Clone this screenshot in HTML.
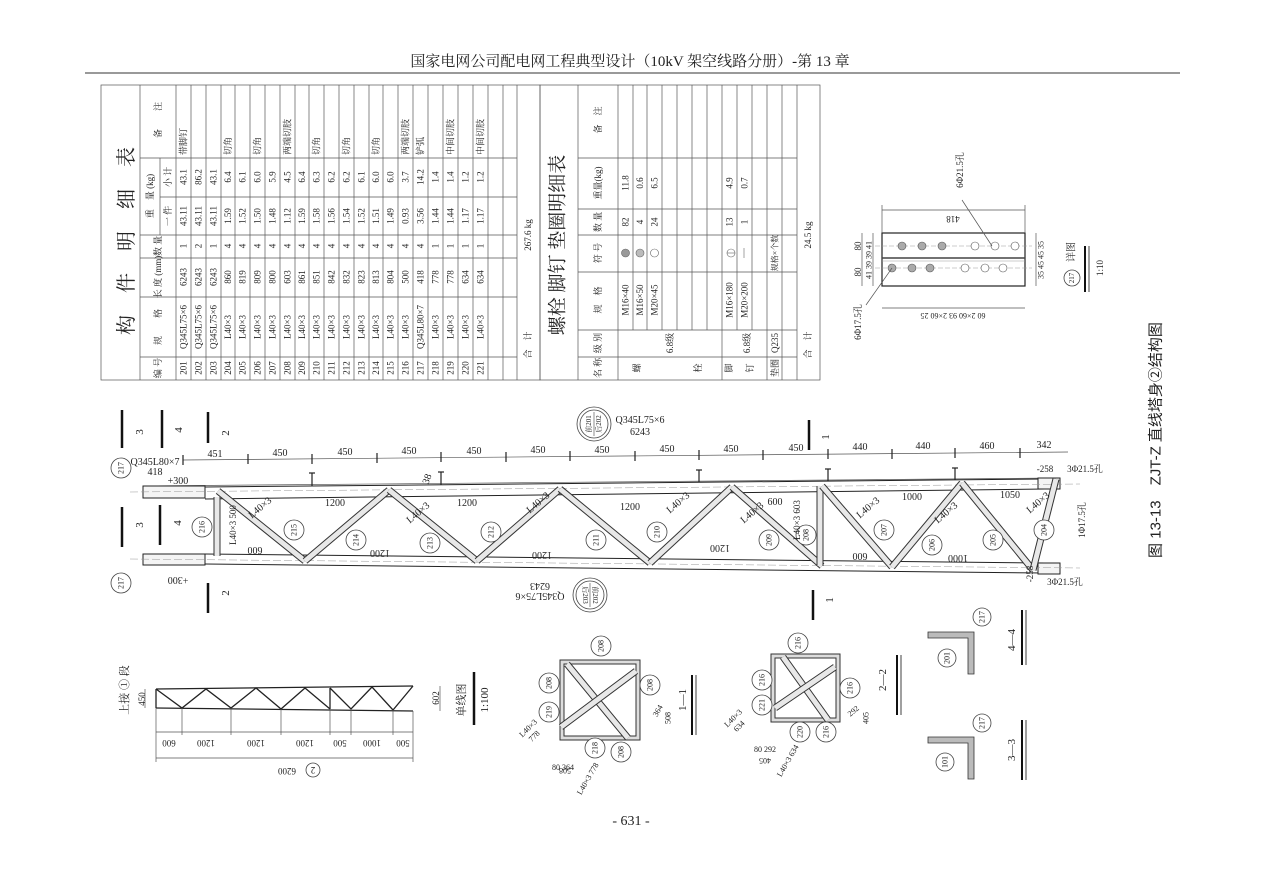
<!DOCTYPE html>
<html><head><meta charset="utf-8"><style>
html,body{margin:0;padding:0;background:#fff}
svg{display:block}
text{font-family:"Liberation Serif","Noto Serif CJK SC",serif;fill:#222}
.r{text-anchor:middle;dominant-baseline:central;font-size:9px}
.s{text-anchor:start;dominant-baseline:central;font-size:9px}
.t{font-size:10px;text-anchor:middle}
.g{stroke:#555;stroke-width:0.7;fill:none}
.k{stroke:#222;stroke-width:1;fill:none}
.bar1{stroke:#333;stroke-width:7;stroke-linecap:butt}
.bar2{stroke:#e8e8e8;stroke-width:5}
.c{fill:#fff;stroke:#444;stroke-width:0.8}
</style></head><body>
<svg width="1262" height="892" viewBox="0 0 1262 892" xmlns="http://www.w3.org/2000/svg">
<text x="630" y="66" style="font-size:15px;text-anchor:middle">国家电网公司配电网工程典型设计（10kV 架空线路分册）-第 13 章</text>
<line x1="85" y1="73" x2="1180" y2="73" stroke="#333" stroke-width="1"/>

<!-- TABLE 1 -->
<rect x="101" y="85" width="439" height="295" class="g"/>
<g class="g">
<line x1="140" y1="85" x2="140" y2="380"/><line x1="160" y1="158" x2="160" y2="235"/>
<line x1="176" y1="85" x2="176" y2="380"/><line x1="191" y1="85" x2="191" y2="380"/><line x1="206" y1="85" x2="206" y2="380"/><line x1="221" y1="85" x2="221" y2="380"/><line x1="235" y1="85" x2="235" y2="380"/><line x1="250" y1="85" x2="250" y2="380"/><line x1="265" y1="85" x2="265" y2="380"/><line x1="280" y1="85" x2="280" y2="380"/><line x1="295" y1="85" x2="295" y2="380"/><line x1="309" y1="85" x2="309" y2="380"/><line x1="324" y1="85" x2="324" y2="380"/><line x1="339" y1="85" x2="339" y2="380"/><line x1="354" y1="85" x2="354" y2="380"/><line x1="369" y1="85" x2="369" y2="380"/><line x1="383" y1="85" x2="383" y2="380"/><line x1="398" y1="85" x2="398" y2="380"/><line x1="413" y1="85" x2="413" y2="380"/><line x1="428" y1="85" x2="428" y2="380"/><line x1="443" y1="85" x2="443" y2="380"/><line x1="458" y1="85" x2="458" y2="380"/><line x1="473" y1="85" x2="473" y2="380"/><line x1="488" y1="85" x2="488" y2="380"/><line x1="503" y1="85" x2="503" y2="380"/><line x1="517" y1="85" x2="517" y2="380"/>
<line x1="140" y1="357" x2="517" y2="357"/><line x1="140" y1="297" x2="517" y2="297"/><line x1="140" y1="258" x2="517" y2="258"/><line x1="140" y1="235" x2="517" y2="235"/><line x1="160" y1="197" x2="517" y2="197"/><line x1="140" y1="158" x2="517" y2="158"/>
</g>
<text transform="rotate(-90 127 230)" x="127" y="230" class="r" style="font-size:20px;letter-spacing:22px">构件明细表</text>
<text transform="rotate(-90 158 368)" x="158" y="368" class="r">编 号</text>
<text transform="rotate(-90 158 327)" x="158" y="327" class="r">规　　格</text>
<text transform="rotate(-90 158 277)" x="158" y="277" class="r">长 度 (mm)</text>
<text transform="rotate(-90 158 246)" x="158" y="246" class="r">数 量</text>
<text transform="rotate(-90 150 196)" x="150" y="196" class="r">重　量 (kg)</text>
<text transform="rotate(-90 168 216)" x="168" y="216" class="r">一 件</text>
<text transform="rotate(-90 168 177)" x="168" y="177" class="r">小 计</text>
<text transform="rotate(-90 158 120)" x="158" y="120" class="r">备　　注</text>
<text transform="rotate(-90 528 345)" x="528" y="345" class="r">合　计</text>
<text transform="rotate(-90 528 235)" x="528" y="235" class="r">267.6 kg</text>
<!-- rows -->
<g>
<text transform="rotate(-90 183.5 368)" x="183.5" y="368" class="r">201</text><text transform="rotate(-90 183.5 327)" x="183.5" y="327" class="r">Q345L75×6</text><text transform="rotate(-90 183.5 277)" x="183.5" y="277" class="r">6243</text><text transform="rotate(-90 183.5 246)" x="183.5" y="246" class="r">1</text><text transform="rotate(-90 183.5 216)" x="183.5" y="216" class="r">43.11</text><text transform="rotate(-90 183.5 177)" x="183.5" y="177" class="r">43.1</text><text transform="rotate(-90 183.5 155)" x="183.5" y="155" class="s">带脚钉</text>
<text transform="rotate(-90 198.5 368)" x="198.5" y="368" class="r">202</text><text transform="rotate(-90 198.5 327)" x="198.5" y="327" class="r">Q345L75×6</text><text transform="rotate(-90 198.5 277)" x="198.5" y="277" class="r">6243</text><text transform="rotate(-90 198.5 246)" x="198.5" y="246" class="r">2</text><text transform="rotate(-90 198.5 216)" x="198.5" y="216" class="r">43.11</text><text transform="rotate(-90 198.5 177)" x="198.5" y="177" class="r">86.2</text>
<text transform="rotate(-90 213.5 368)" x="213.5" y="368" class="r">203</text><text transform="rotate(-90 213.5 327)" x="213.5" y="327" class="r">Q345L75×6</text><text transform="rotate(-90 213.5 277)" x="213.5" y="277" class="r">6243</text><text transform="rotate(-90 213.5 246)" x="213.5" y="246" class="r">1</text><text transform="rotate(-90 213.5 216)" x="213.5" y="216" class="r">43.11</text><text transform="rotate(-90 213.5 177)" x="213.5" y="177" class="r">43.1</text>
<text transform="rotate(-90 228 368)" x="228" y="368" class="r">204</text><text transform="rotate(-90 228 327)" x="228" y="327" class="r">L40×3</text><text transform="rotate(-90 228 277)" x="228" y="277" class="r">860</text><text transform="rotate(-90 228 246)" x="228" y="246" class="r">4</text><text transform="rotate(-90 228 216)" x="228" y="216" class="r">1.59</text><text transform="rotate(-90 228 177)" x="228" y="177" class="r">6.4</text><text transform="rotate(-90 228 155)" x="228" y="155" class="s">切角</text>
<text transform="rotate(-90 242.5 368)" x="242.5" y="368" class="r">205</text><text transform="rotate(-90 242.5 327)" x="242.5" y="327" class="r">L40×3</text><text transform="rotate(-90 242.5 277)" x="242.5" y="277" class="r">819</text><text transform="rotate(-90 242.5 246)" x="242.5" y="246" class="r">4</text><text transform="rotate(-90 242.5 216)" x="242.5" y="216" class="r">1.52</text><text transform="rotate(-90 242.5 177)" x="242.5" y="177" class="r">6.1</text>
<text transform="rotate(-90 257.5 368)" x="257.5" y="368" class="r">206</text><text transform="rotate(-90 257.5 327)" x="257.5" y="327" class="r">L40×3</text><text transform="rotate(-90 257.5 277)" x="257.5" y="277" class="r">809</text><text transform="rotate(-90 257.5 246)" x="257.5" y="246" class="r">4</text><text transform="rotate(-90 257.5 216)" x="257.5" y="216" class="r">1.50</text><text transform="rotate(-90 257.5 177)" x="257.5" y="177" class="r">6.0</text><text transform="rotate(-90 257.5 155)" x="257.5" y="155" class="s">切角</text>
<text transform="rotate(-90 272.5 368)" x="272.5" y="368" class="r">207</text><text transform="rotate(-90 272.5 327)" x="272.5" y="327" class="r">L40×3</text><text transform="rotate(-90 272.5 277)" x="272.5" y="277" class="r">800</text><text transform="rotate(-90 272.5 246)" x="272.5" y="246" class="r">4</text><text transform="rotate(-90 272.5 216)" x="272.5" y="216" class="r">1.48</text><text transform="rotate(-90 272.5 177)" x="272.5" y="177" class="r">5.9</text>
<text transform="rotate(-90 287.5 368)" x="287.5" y="368" class="r">208</text><text transform="rotate(-90 287.5 327)" x="287.5" y="327" class="r">L40×3</text><text transform="rotate(-90 287.5 277)" x="287.5" y="277" class="r">603</text><text transform="rotate(-90 287.5 246)" x="287.5" y="246" class="r">4</text><text transform="rotate(-90 287.5 216)" x="287.5" y="216" class="r">1.12</text><text transform="rotate(-90 287.5 177)" x="287.5" y="177" class="r">4.5</text><text transform="rotate(-90 287.5 155)" x="287.5" y="155" class="s">两端切肢</text>
<text transform="rotate(-90 302 368)" x="302" y="368" class="r">209</text><text transform="rotate(-90 302 327)" x="302" y="327" class="r">L40×3</text><text transform="rotate(-90 302 277)" x="302" y="277" class="r">861</text><text transform="rotate(-90 302 246)" x="302" y="246" class="r">4</text><text transform="rotate(-90 302 216)" x="302" y="216" class="r">1.59</text><text transform="rotate(-90 302 177)" x="302" y="177" class="r">6.4</text>
<text transform="rotate(-90 316.5 368)" x="316.5" y="368" class="r">210</text><text transform="rotate(-90 316.5 327)" x="316.5" y="327" class="r">L40×3</text><text transform="rotate(-90 316.5 277)" x="316.5" y="277" class="r">851</text><text transform="rotate(-90 316.5 246)" x="316.5" y="246" class="r">4</text><text transform="rotate(-90 316.5 216)" x="316.5" y="216" class="r">1.58</text><text transform="rotate(-90 316.5 177)" x="316.5" y="177" class="r">6.3</text><text transform="rotate(-90 316.5 155)" x="316.5" y="155" class="s">切角</text>
<text transform="rotate(-90 331.5 368)" x="331.5" y="368" class="r">211</text><text transform="rotate(-90 331.5 327)" x="331.5" y="327" class="r">L40×3</text><text transform="rotate(-90 331.5 277)" x="331.5" y="277" class="r">842</text><text transform="rotate(-90 331.5 246)" x="331.5" y="246" class="r">4</text><text transform="rotate(-90 331.5 216)" x="331.5" y="216" class="r">1.56</text><text transform="rotate(-90 331.5 177)" x="331.5" y="177" class="r">6.2</text>
<text transform="rotate(-90 346.5 368)" x="346.5" y="368" class="r">212</text><text transform="rotate(-90 346.5 327)" x="346.5" y="327" class="r">L40×3</text><text transform="rotate(-90 346.5 277)" x="346.5" y="277" class="r">832</text><text transform="rotate(-90 346.5 246)" x="346.5" y="246" class="r">4</text><text transform="rotate(-90 346.5 216)" x="346.5" y="216" class="r">1.54</text><text transform="rotate(-90 346.5 177)" x="346.5" y="177" class="r">6.2</text><text transform="rotate(-90 346.5 155)" x="346.5" y="155" class="s">切角</text>
<text transform="rotate(-90 361.5 368)" x="361.5" y="368" class="r">213</text><text transform="rotate(-90 361.5 327)" x="361.5" y="327" class="r">L40×3</text><text transform="rotate(-90 361.5 277)" x="361.5" y="277" class="r">823</text><text transform="rotate(-90 361.5 246)" x="361.5" y="246" class="r">4</text><text transform="rotate(-90 361.5 216)" x="361.5" y="216" class="r">1.52</text><text transform="rotate(-90 361.5 177)" x="361.5" y="177" class="r">6.1</text>
<text transform="rotate(-90 376 368)" x="376" y="368" class="r">214</text><text transform="rotate(-90 376 327)" x="376" y="327" class="r">L40×3</text><text transform="rotate(-90 376 277)" x="376" y="277" class="r">813</text><text transform="rotate(-90 376 246)" x="376" y="246" class="r">4</text><text transform="rotate(-90 376 216)" x="376" y="216" class="r">1.51</text><text transform="rotate(-90 376 177)" x="376" y="177" class="r">6.0</text><text transform="rotate(-90 376 155)" x="376" y="155" class="s">切角</text>
<text transform="rotate(-90 390.5 368)" x="390.5" y="368" class="r">215</text><text transform="rotate(-90 390.5 327)" x="390.5" y="327" class="r">L40×3</text><text transform="rotate(-90 390.5 277)" x="390.5" y="277" class="r">804</text><text transform="rotate(-90 390.5 246)" x="390.5" y="246" class="r">4</text><text transform="rotate(-90 390.5 216)" x="390.5" y="216" class="r">1.49</text><text transform="rotate(-90 390.5 177)" x="390.5" y="177" class="r">6.0</text>
<text transform="rotate(-90 405.5 368)" x="405.5" y="368" class="r">216</text><text transform="rotate(-90 405.5 327)" x="405.5" y="327" class="r">L40×3</text><text transform="rotate(-90 405.5 277)" x="405.5" y="277" class="r">500</text><text transform="rotate(-90 405.5 246)" x="405.5" y="246" class="r">4</text><text transform="rotate(-90 405.5 216)" x="405.5" y="216" class="r">0.93</text><text transform="rotate(-90 405.5 177)" x="405.5" y="177" class="r">3.7</text><text transform="rotate(-90 405.5 155)" x="405.5" y="155" class="s">两端切肢</text>
<text transform="rotate(-90 420.5 368)" x="420.5" y="368" class="r">217</text><text transform="rotate(-90 420.5 327)" x="420.5" y="327" class="r">Q345L80×7</text><text transform="rotate(-90 420.5 277)" x="420.5" y="277" class="r">418</text><text transform="rotate(-90 420.5 246)" x="420.5" y="246" class="r">4</text><text transform="rotate(-90 420.5 216)" x="420.5" y="216" class="r">3.56</text><text transform="rotate(-90 420.5 177)" x="420.5" y="177" class="r">14.2</text><text transform="rotate(-90 420.5 155)" x="420.5" y="155" class="s">铲弧</text>
<text transform="rotate(-90 435.5 368)" x="435.5" y="368" class="r">218</text><text transform="rotate(-90 435.5 327)" x="435.5" y="327" class="r">L40×3</text><text transform="rotate(-90 435.5 277)" x="435.5" y="277" class="r">778</text><text transform="rotate(-90 435.5 246)" x="435.5" y="246" class="r">1</text><text transform="rotate(-90 435.5 216)" x="435.5" y="216" class="r">1.44</text><text transform="rotate(-90 435.5 177)" x="435.5" y="177" class="r">1.4</text>
<text transform="rotate(-90 450.5 368)" x="450.5" y="368" class="r">219</text><text transform="rotate(-90 450.5 327)" x="450.5" y="327" class="r">L40×3</text><text transform="rotate(-90 450.5 277)" x="450.5" y="277" class="r">778</text><text transform="rotate(-90 450.5 246)" x="450.5" y="246" class="r">1</text><text transform="rotate(-90 450.5 216)" x="450.5" y="216" class="r">1.44</text><text transform="rotate(-90 450.5 177)" x="450.5" y="177" class="r">1.4</text><text transform="rotate(-90 450.5 155)" x="450.5" y="155" class="s">中间切肢</text>
<text transform="rotate(-90 465.5 368)" x="465.5" y="368" class="r">220</text><text transform="rotate(-90 465.5 327)" x="465.5" y="327" class="r">L40×3</text><text transform="rotate(-90 465.5 277)" x="465.5" y="277" class="r">634</text><text transform="rotate(-90 465.5 246)" x="465.5" y="246" class="r">1</text><text transform="rotate(-90 465.5 216)" x="465.5" y="216" class="r">1.17</text><text transform="rotate(-90 465.5 177)" x="465.5" y="177" class="r">1.2</text>
<text transform="rotate(-90 480.5 368)" x="480.5" y="368" class="r">221</text><text transform="rotate(-90 480.5 327)" x="480.5" y="327" class="r">L40×3</text><text transform="rotate(-90 480.5 277)" x="480.5" y="277" class="r">634</text><text transform="rotate(-90 480.5 246)" x="480.5" y="246" class="r">1</text><text transform="rotate(-90 480.5 216)" x="480.5" y="216" class="r">1.17</text><text transform="rotate(-90 480.5 177)" x="480.5" y="177" class="r">1.2</text><text transform="rotate(-90 480.5 155)" x="480.5" y="155" class="s">中间切肢</text>
</g>

<!-- TABLE 2 -->
<rect x="540" y="85" width="280" height="295" class="g"/>
<g class="g">
<line x1="578" y1="85" x2="578" y2="380"/><line x1="618" y1="85" x2="618" y2="380"/>
<line x1="633" y1="85" x2="633" y2="330"/><line x1="647" y1="85" x2="647" y2="330"/><line x1="662" y1="85" x2="662" y2="330"/><line x1="677" y1="85" x2="677" y2="330"/><line x1="692" y1="85" x2="692" y2="330"/><line x1="707" y1="85" x2="707" y2="330"/><line x1="722" y1="85" x2="722" y2="380"/><line x1="737" y1="85" x2="737" y2="330"/><line x1="752" y1="85" x2="752" y2="330"/><line x1="767" y1="85" x2="767" y2="380"/><line x1="782" y1="85" x2="782" y2="380"/><line x1="797" y1="85" x2="797" y2="380"/>
<line x1="578" y1="357" x2="797" y2="357"/><line x1="578" y1="330" x2="797" y2="330"/><line x1="578" y1="272" x2="797" y2="272"/><line x1="578" y1="235" x2="797" y2="235"/><line x1="578" y1="209" x2="797" y2="209"/><line x1="578" y1="158" x2="797" y2="158"/>
</g>
<text transform="rotate(-90 558 245)" x="558" y="245" class="r" style="font-size:19px">螺栓 脚钉 垫圈明细表</text>
<text transform="rotate(-90 598 368)" x="598" y="368" class="r">名 称</text>
<text transform="rotate(-90 598 343)" x="598" y="343" class="r">级 别</text>
<text transform="rotate(-90 598 300)" x="598" y="300" class="r">规　格</text>
<text transform="rotate(-90 598 253)" x="598" y="253" class="r">符 号</text>
<text transform="rotate(-90 598 222)" x="598" y="222" class="r">数 量</text>
<text transform="rotate(-90 598 183)" x="598" y="183" class="r">重量(kg)</text>
<text transform="rotate(-90 598 120)" x="598" y="120" class="r">备　注</text>
<text transform="rotate(-90 637 368)" x="637" y="368" class="r">螺</text>
<text transform="rotate(-90 698 368)" x="698" y="368" class="r">栓</text>
<text transform="rotate(-90 670 343)" x="670" y="343" class="r">6.8级</text>
<text transform="rotate(-90 729 368)" x="729" y="368" class="r">脚</text>
<text transform="rotate(-90 750 368)" x="750" y="368" class="r">钉</text>
<text transform="rotate(-90 747 343)" x="747" y="343" class="r">6.8级</text>
<text transform="rotate(-90 775 368)" x="775" y="368" class="r">垫圈</text>
<text transform="rotate(-90 775 343)" x="775" y="343" class="r">Q235</text>
<text transform="rotate(-90 775 253)" x="775" y="253" class="r" style="font-size:8px">规格×个数</text>
<text transform="rotate(-90 625.5 300)" x="625.5" y="300" class="r">M16×40</text><text transform="rotate(-90 625.5 222)" x="625.5" y="222" class="r">82</text><text transform="rotate(-90 625.5 183)" x="625.5" y="183" class="r">11.8</text>
<text transform="rotate(-90 640 300)" x="640" y="300" class="r">M16×50</text><text transform="rotate(-90 640 222)" x="640" y="222" class="r">4</text><text transform="rotate(-90 640 183)" x="640" y="183" class="r">0.6</text>
<text transform="rotate(-90 654.5 300)" x="654.5" y="300" class="r">M20×45</text><text transform="rotate(-90 654.5 222)" x="654.5" y="222" class="r">24</text><text transform="rotate(-90 654.5 183)" x="654.5" y="183" class="r">6.5</text>
<text transform="rotate(-90 729.5 300)" x="729.5" y="300" class="r">M16×180</text><text transform="rotate(-90 729.5 222)" x="729.5" y="222" class="r">13</text><text transform="rotate(-90 729.5 183)" x="729.5" y="183" class="r">4.9</text>
<text transform="rotate(-90 744.5 300)" x="744.5" y="300" class="r">M20×200</text><text transform="rotate(-90 744.5 222)" x="744.5" y="222" class="r">1</text><text transform="rotate(-90 744.5 183)" x="744.5" y="183" class="r">0.7</text>
<circle cx="625.5" cy="253" r="4" fill="#999" stroke="#666" stroke-width="0.6"/>
<circle cx="640" cy="253" r="4" fill="#bbb" stroke="#666" stroke-width="0.6"/>
<circle cx="654.5" cy="253" r="4" fill="none" stroke="#666" stroke-width="0.6"/>
<circle cx="731" cy="253" r="4" fill="none" stroke="#666" stroke-width="0.6"/><line x1="727" y1="253" x2="735" y2="253" stroke="#666" stroke-width="0.6"/>
<line x1="744" y1="248" x2="744" y2="258" stroke="#666" stroke-width="0.6"/>
<text transform="rotate(-90 808 345)" x="808" y="345" class="r">合　计</text>
<text transform="rotate(-90 808 235)" x="808" y="235" class="r">24.5 kg</text>

<!-- DETAIL 217 -->
<rect x="882" y="233" width="143" height="53" fill="none" stroke="#222" stroke-width="1.2"/>
<line x1="882" y1="258" x2="1025" y2="258" stroke="#444" stroke-width="1.5"/><line x1="882" y1="261" x2="1025" y2="261" stroke="#999" stroke-width="0.6"/>
<line x1="875" y1="246" x2="1032" y2="246" stroke="#999" stroke-width="0.5" stroke-dasharray="5,2"/>
<line x1="875" y1="268" x2="1032" y2="268" stroke="#999" stroke-width="0.5" stroke-dasharray="5,2"/>
<g stroke="#555" stroke-width="0.6"><circle cx="902" cy="246" r="4" fill="#aaa"/><circle cx="922" cy="246" r="4" fill="#aaa"/><circle cx="942" cy="246" r="4" fill="#aaa"/><circle cx="975" cy="246" r="4" fill="#fff"/><circle cx="995" cy="246" r="4" fill="#fff"/><circle cx="1015" cy="246" r="4" fill="#fff"/>
<circle cx="892" cy="268" r="4" fill="#aaa"/><circle cx="912" cy="268" r="4" fill="#aaa"/><circle cx="930" cy="268" r="4" fill="#aaa"/><circle cx="965" cy="268" r="4" fill="#fff"/><circle cx="985" cy="268" r="4" fill="#fff"/><circle cx="1003" cy="268" r="4" fill="#fff"/></g>
<g class="g"><line x1="882" y1="210" x2="1025" y2="210"/><line x1="882" y1="205" x2="882" y2="233"/><line x1="1025" y1="205" x2="1025" y2="233"/>
<line x1="882" y1="308" x2="1025" y2="308"/><line x1="862" y1="233" x2="862" y2="286"/><line x1="873" y1="233" x2="873" y2="286"/><line x1="1036" y1="233" x2="1036" y2="286"/>
<line x1="992" y1="246" x2="962" y2="200"/><line x1="892" y1="268" x2="866" y2="305"/></g>
<text transform="rotate(180 953 216)" x="953" y="216" class="t" style="font-size:9px;text-anchor:middle">418</text>
<text transform="rotate(-90 858 246)" x="858" y="246" class="r">80</text><text transform="rotate(-90 858 272)" x="858" y="272" class="r">80</text>
<text transform="rotate(-90 869 260)" x="869" y="260" class="r" style="font-size:8px">41 39 39 41</text>
<text transform="rotate(-90 1041 260)" x="1041" y="260" class="r" style="font-size:8px">35 45 45 35</text>
<text transform="rotate(180 953 313)" x="953" y="313" class="t" style="font-size:8px">60  2×60  93  2×60  25</text>
<text transform="rotate(-90 960 170)" x="960" y="170" class="r">6Φ21.5孔</text>
<text transform="rotate(-90 858 322)" x="858" y="322" class="r">6Φ17.5孔</text>
<circle cx="1072" cy="278" r="8" class="c"/><text transform="rotate(-90 1072 278)" x="1072" y="278" class="r" style="font-size:7px">217</text>
<text transform="rotate(-90 1072 252)" x="1072" y="252" class="r" style="font-size:10px">详图</text>
<line x1="1085" y1="246" x2="1085" y2="292" stroke="#111" stroke-width="2"/><line x1="1089" y1="246" x2="1089" y2="292" stroke="#111" stroke-width="0.8"/>
<text transform="rotate(-90 1100 268)" x="1100" y="268" class="r">1:10</text>

<text transform="rotate(-90 1156 440)" x="1156" y="440" class="r" style="font-size:15px;font-family:'Liberation Sans','Noto Sans CJK SC',sans-serif">图 13-13　ZJT-Z 直线塔身②结构图</text>

<!-- MAIN TRUSS -->
<g class="g">
<line x1="183" y1="460" x2="1068" y2="452"/>
<line x1="143" y1="486" x2="1060" y2="478"/>
</g>
<g stroke="#222" stroke-width="1" fill="none">
<line x1="205" y1="487" x2="1045" y2="479"/><line x1="205" y1="499" x2="1045" y2="489"/>
<line x1="205" y1="554" x2="1045" y2="563"/><line x1="205" y1="564" x2="1045" y2="573"/>
<rect x="143" y="486" width="62" height="12" fill="#f4f4f4"/><rect x="143" y="554" width="62" height="11" fill="#f4f4f4"/>
<rect x="1038" y="478" width="22" height="11" fill="#f4f4f4"/><rect x="1038" y="563" width="22" height="11" fill="#f4f4f4"/>
</g>
<g stroke="#999" stroke-width="0.5" stroke-dasharray="8,3"><line x1="130" y1="492" x2="1080" y2="484"/><line x1="130" y1="559" x2="1080" y2="568"/></g>
<g>
<line x1="218" y1="491" x2="305" y2="561" class="bar1"/><line x1="218" y1="491" x2="305" y2="561" class="bar2"/>
<line x1="305" y1="561" x2="389" y2="490" class="bar1"/><line x1="305" y1="561" x2="389" y2="490" class="bar2"/>
<line x1="389" y1="490" x2="477" y2="561" class="bar1"/><line x1="389" y1="490" x2="477" y2="561" class="bar2"/>
<line x1="477" y1="561" x2="560" y2="489" class="bar1"/><line x1="477" y1="561" x2="560" y2="489" class="bar2"/>
<line x1="560" y1="489" x2="650" y2="563" class="bar1"/><line x1="560" y1="489" x2="650" y2="563" class="bar2"/>
<line x1="650" y1="563" x2="732" y2="487" class="bar1"/><line x1="650" y1="563" x2="732" y2="487" class="bar2"/>
<line x1="732" y1="487" x2="822" y2="566" class="bar1"/><line x1="732" y1="487" x2="822" y2="566" class="bar2"/>
<line x1="820" y1="486" x2="820" y2="566" class="bar1"/><line x1="820" y1="486" x2="820" y2="566" class="bar2"/>
<line x1="822" y1="486" x2="892" y2="567" class="bar1"/><line x1="822" y1="486" x2="892" y2="567" class="bar2"/>
<line x1="892" y1="567" x2="962" y2="483" class="bar1"/><line x1="892" y1="567" x2="962" y2="483" class="bar2"/>
<line x1="962" y1="483" x2="1033" y2="570" class="bar1"/><line x1="962" y1="483" x2="1033" y2="570" class="bar2"/>
<line x1="1033" y1="570" x2="1056" y2="479" class="bar1"/><line x1="1033" y1="570" x2="1056" y2="479" class="bar2"/>
<line x1="217" y1="497" x2="217" y2="556" class="bar1"/><line x1="217" y1="497" x2="217" y2="556" class="bar2"/>
</g>
<g stroke="#222" stroke-width="1.2">
<line x1="183" y1="455" x2="183" y2="465"/><line x1="248" y1="454" x2="248" y2="464"/><line x1="312" y1="454" x2="312" y2="464"/><line x1="377" y1="453" x2="377" y2="463"/><line x1="441" y1="452" x2="441" y2="462"/><line x1="506" y1="452" x2="506" y2="462"/><line x1="570" y1="451" x2="570" y2="461"/><line x1="635" y1="451" x2="635" y2="461"/><line x1="699" y1="450" x2="699" y2="460"/><line x1="763" y1="450" x2="763" y2="460"/><line x1="828" y1="449" x2="828" y2="459"/><line x1="892" y1="449" x2="892" y2="459"/><line x1="955" y1="448" x2="955" y2="458"/><line x1="1020" y1="448" x2="1020" y2="458"/>
<line x1="312" y1="473" x2="312" y2="486"/><line x1="441" y1="472" x2="441" y2="485"/><line x1="699" y1="470" x2="699" y2="482"/><line x1="828" y1="469" x2="828" y2="481"/><line x1="955" y1="468" x2="955" y2="480"/>
<line x1="309" y1="473" x2="315" y2="473"/><line x1="438" y1="472" x2="444" y2="472"/><line x1="696" y1="470" x2="702" y2="470"/><line x1="825" y1="469" x2="831" y2="469"/><line x1="952" y1="468" x2="958" y2="468"/>
</g>
<g class="t">
<text x="215" y="457">451</text><text x="280" y="456">450</text><text x="345" y="455">450</text><text x="409" y="454">450</text><text x="474" y="454">450</text><text x="538" y="453">450</text><text x="602" y="453">450</text><text x="667" y="452">450</text><text x="731" y="452">450</text><text x="796" y="451">450</text><text x="860" y="450">440</text><text x="923" y="449">440</text><text x="987" y="449">460</text><text x="1044" y="448">342</text>
</g>
<!-- section marks -->
<g stroke="#111" stroke-width="2.5"><line x1="122" y1="410" x2="122" y2="448"/><line x1="162" y1="410" x2="162" y2="448"/><line x1="208" y1="412" x2="208" y2="443"/>
<line x1="122" y1="507" x2="122" y2="547"/><line x1="160" y1="505" x2="160" y2="545"/><line x1="208" y1="583" x2="208" y2="613"/>
<line x1="809" y1="420" x2="809" y2="450"/><line x1="813" y1="590" x2="813" y2="620"/></g>
<g class="r" style="font-size:11px">
<text transform="rotate(-90 140 432)" x="140" y="432" class="r" style="font-size:11px">3</text><text transform="rotate(-90 179 430)" x="179" y="430" class="r" style="font-size:11px">4</text><text transform="rotate(-90 226 433)" x="226" y="433" class="r" style="font-size:11px">2</text>
<text transform="rotate(-90 140 525)" x="140" y="525" class="r" style="font-size:11px">3</text><text transform="rotate(-90 178 523)" x="178" y="523" class="r" style="font-size:11px">4</text><text transform="rotate(-90 226 593)" x="226" y="593" class="r" style="font-size:11px">2</text>
<text transform="rotate(-90 826 437)" x="826" y="437" class="r" style="font-size:11px">1</text><text transform="rotate(-90 830 600)" x="830" y="600" class="r" style="font-size:11px">1</text>
</g>
<!-- circled labels -->
<g>
<circle cx="121" cy="468" r="10" class="c"/><text transform="rotate(-90 121 468)" x="121" y="468" class="r" style="font-size:8px">217</text>
<circle cx="121" cy="583" r="10" class="c"/><text transform="rotate(-90 121 583)" x="121" y="583" class="r" style="font-size:8px">217</text>
<circle cx="202" cy="527" r="10" class="c"/><text transform="rotate(-90 202 527)" x="202" y="527" class="r" style="font-size:8px">216</text>
<circle cx="294" cy="530" r="10" class="c"/><text transform="rotate(-90 294 530)" x="294" y="530" class="r" style="font-size:8px">215</text>
<circle cx="356" cy="540" r="10" class="c"/><text transform="rotate(-90 356 540)" x="356" y="540" class="r" style="font-size:8px">214</text>
<circle cx="430" cy="543" r="10" class="c"/><text transform="rotate(-90 430 543)" x="430" y="543" class="r" style="font-size:8px">213</text>
<circle cx="491" cy="532" r="10" class="c"/><text transform="rotate(-90 491 532)" x="491" y="532" class="r" style="font-size:8px">212</text>
<circle cx="596" cy="540" r="10" class="c"/><text transform="rotate(-90 596 540)" x="596" y="540" class="r" style="font-size:8px">211</text>
<circle cx="657" cy="532" r="10" class="c"/><text transform="rotate(-90 657 532)" x="657" y="532" class="r" style="font-size:8px">210</text>
<circle cx="769" cy="540" r="10" class="c"/><text transform="rotate(-90 769 540)" x="769" y="540" class="r" style="font-size:8px">209</text>
<circle cx="806" cy="535" r="10" class="c"/><text transform="rotate(-90 806 535)" x="806" y="535" class="r" style="font-size:8px">208</text>
<circle cx="884" cy="530" r="10" class="c"/><text transform="rotate(-90 884 530)" x="884" y="530" class="r" style="font-size:8px">207</text>
<circle cx="932" cy="545" r="10" class="c"/><text transform="rotate(-90 932 545)" x="932" y="545" class="r" style="font-size:8px">206</text>
<circle cx="993" cy="540" r="10" class="c"/><text transform="rotate(-90 993 540)" x="993" y="540" class="r" style="font-size:8px">205</text>
<circle cx="1044" cy="530" r="10" class="c"/><text transform="rotate(-90 1044 530)" x="1044" y="530" class="r" style="font-size:8px">204</text>
<circle cx="594" cy="424" r="17" class="c"/><circle cx="594" cy="424" r="14" class="c"/><line x1="594" y1="412" x2="594" y2="436" stroke="#444" stroke-width="0.6"/>
<text transform="rotate(-90 589 424)" x="589" y="424" class="r" style="font-size:7px">前201</text><text transform="rotate(-90 599 424)" x="599" y="424" class="r" style="font-size:7px">后202</text>
<circle cx="590" cy="595" r="17" class="c"/><circle cx="590" cy="595" r="14" class="c"/><line x1="590" y1="583" x2="590" y2="607" stroke="#444" stroke-width="0.6"/>
<text transform="rotate(90 585 595)" x="585" y="595" class="r" style="font-size:7px">后203</text><text transform="rotate(90 595 595)" x="595" y="595" class="r" style="font-size:7px">前202</text>
</g>
<g style="font-size:9px">
<text x="640" y="423" class="t" style="font-size:10px">Q345L75×6</text><text x="640" y="435" class="t" style="font-size:10px">6243</text>
<text transform="rotate(180 540 593)" x="540" y="593" class="t" style="font-size:10px">Q345L75×6</text><text transform="rotate(180 540 583)" x="540" y="583" class="t" style="font-size:10px">6243</text>
<text x="155" y="465" class="t" style="font-size:10px">Q345L80×7</text><text x="155" y="475" class="t" style="font-size:10px">418</text><text x="178" y="484" class="t" style="font-size:10px">+300</text>
<text transform="rotate(180 178 577)" x="178" y="577" class="t" style="font-size:10px">+300</text>
<text x="335" y="506" class="t">1200</text><text x="467" y="506" class="t">1200</text><text x="630" y="510" class="t">1200</text><text x="775" y="505" class="t">600</text><text x="912" y="500" class="t">1000</text><text x="1010" y="498" class="t">1050</text>
<text transform="rotate(180 380 550)" x="380" y="550" class="t">1200</text><text transform="rotate(180 542 552)" x="542" y="552" class="t">1200</text><text transform="rotate(180 720 545)" x="720" y="545" class="t">1200</text><text transform="rotate(180 255 547)" x="255" y="547" class="t">600</text><text transform="rotate(180 860 553)" x="860" y="553" class="t">600</text><text transform="rotate(180 958 555)" x="958" y="555" class="t">1000</text>
<text transform="rotate(-40 262 510)" x="262" y="510" class="t">L40×3</text><text transform="rotate(-40 420 515)" x="420" y="515" class="t">L40×3</text><text transform="rotate(-40 540 505)" x="540" y="505" class="t">L40×3</text><text transform="rotate(-40 680 505)" x="680" y="505" class="t">L40×3</text><text transform="rotate(-40 754 515)" x="754" y="515" class="t">L40×3</text><text transform="rotate(-40 870 510)" x="870" y="510" class="t">L40×3</text><text transform="rotate(-40 948 515)" x="948" y="515" class="t">L40×3</text><text transform="rotate(-40 1040 505)" x="1040" y="505" class="t">L40×3</text>
<text transform="rotate(-90 233 525)" x="233" y="525" class="r">L40×3 500</text><text transform="rotate(-90 797 520)" x="797" y="520" class="r">L40×3 603</text>
<text transform="rotate(-90 1030 574)" x="1030" y="574" class="r">-258</text><text x="1065" y="585" class="t" style="font-size:9px">3Φ21.5孔</text>
<text x="1045" y="472" class="t" style="font-size:9px">-258</text><text x="1085" y="472" class="t" style="font-size:9px">3Φ21.5孔</text>
<text transform="rotate(-90 1082 520)" x="1082" y="520" class="r">1Φ17.5孔</text>
<text transform="rotate(-70 430 480)" x="430" y="480" class="t">38</text>
</g>

<!-- SINGLE LINE -->
<g stroke="#222" stroke-width="1.3" fill="none">
<line x1="156" y1="689" x2="413" y2="686"/><line x1="156" y1="708" x2="413" y2="711"/>
<line x1="156" y1="689" x2="156" y2="708"/><line x1="330" y1="688" x2="330" y2="709"/>
<polyline points="156,689 182,708 206,689 231,708 256,688 281,709 305,688 330,709"/>
<polyline points="330,688 351,709 372,687 393,710 413,686"/>
</g>
<g class="g"><line x1="156" y1="732" x2="413" y2="732"/><line x1="156" y1="758" x2="413" y2="758"/>
<line x1="156" y1="708" x2="156" y2="762"/><line x1="182" y1="708" x2="182" y2="735"/><line x1="231" y1="708" x2="231" y2="735"/><line x1="281" y1="709" x2="281" y2="735"/><line x1="330" y1="709" x2="330" y2="735"/><line x1="351" y1="709" x2="351" y2="735"/><line x1="393" y1="710" x2="393" y2="735"/><line x1="413" y1="711" x2="413" y2="762"/>
<line x1="145" y1="689" x2="145" y2="708"/><line x1="440" y1="686" x2="440" y2="711"/></g>
<g style="font-size:9px">
<text transform="rotate(180 169 740)" x="169" y="740" class="t" style="font-size:9px">600</text><text transform="rotate(180 206 740)" x="206" y="740" class="t" style="font-size:9px">1200</text><text transform="rotate(180 256 740)" x="256" y="740" class="t" style="font-size:9px">1200</text><text transform="rotate(180 305 740)" x="305" y="740" class="t" style="font-size:9px">1200</text><text transform="rotate(180 340 740)" x="340" y="740" class="t" style="font-size:9px">500</text><text transform="rotate(180 372 740)" x="372" y="740" class="t" style="font-size:9px">1000</text><text transform="rotate(180 403 740)" x="403" y="740" class="t" style="font-size:9px">500</text>
<text transform="rotate(180 287 768)" x="287" y="768" class="t" style="font-size:9px">6200</text>
<circle cx="313" cy="770" r="7" class="c"/><text transform="rotate(180 313 770)" x="313" y="770" class="r">2</text>
<text transform="rotate(-90 142 699)" x="142" y="699" class="r">450</text>
<text transform="rotate(-90 436 698)" x="436" y="698" class="r">602</text>
<text transform="rotate(-90 125 690)" x="125" y="690" class="r" style="font-size:11px">上接 ① 段</text>
<text transform="rotate(-90 462 700)" x="462" y="700" class="r" style="font-size:11px">单线图</text>
<text transform="rotate(-90 485 700)" x="485" y="700" class="r" style="font-size:11px">1:100</text>
</g>
<line x1="474" y1="672" x2="474" y2="725" stroke="#111" stroke-width="2.5"/>

<!-- SECTION 1-1 -->
<g>
<rect x="562" y="662" width="76" height="76" fill="none" stroke="#333" stroke-width="5"/>
<rect x="562" y="662" width="76" height="76" fill="none" stroke="#ddd" stroke-width="3"/>
<line x1="567" y1="664" x2="628" y2="738" class="bar1"/><line x1="567" y1="664" x2="628" y2="738" class="bar2"/>
<line x1="561" y1="727" x2="636" y2="671" class="bar1"/><line x1="561" y1="727" x2="636" y2="671" class="bar2"/>
<circle cx="601" cy="646" r="10" class="c"/><text transform="rotate(-90 601 646)" x="601" y="646" class="r" style="font-size:8px">208</text>
<circle cx="549" cy="683" r="10" class="c"/><text transform="rotate(-90 549 683)" x="549" y="683" class="r" style="font-size:8px">208</text>
<circle cx="549" cy="712" r="10" class="c"/><text transform="rotate(-90 549 712)" x="549" y="712" class="r" style="font-size:8px">219</text>
<circle cx="650" cy="685" r="10" class="c"/><text transform="rotate(-90 650 685)" x="650" y="685" class="r" style="font-size:8px">208</text>
<circle cx="595" cy="748" r="10" class="c"/><text transform="rotate(-90 595 748)" x="595" y="748" class="r" style="font-size:8px">218</text>
<circle cx="621" cy="752" r="10" class="c"/><text transform="rotate(-90 621 752)" x="621" y="752" class="r" style="font-size:8px">208</text>
<text transform="rotate(-45 530 730)" x="530" y="730" class="t" style="font-size:8px">L40×3</text><text transform="rotate(-45 536 738)" x="536" y="738" class="t" style="font-size:8px">778</text>
<text transform="rotate(-60 590 780)" x="590" y="780" class="t" style="font-size:8px">L40×3 778</text>
<text x="563" y="770" class="t" style="font-size:8px">80 364</text><text transform="rotate(180 565 768)" x="565" y="768" class="t" style="font-size:8px">508</text>
<text transform="rotate(-60 660 712)" x="660" y="712" class="t" style="font-size:8px">364</text><text transform="rotate(-90 668 718)" x="668" y="718" class="r" style="font-size:8px">508</text>
<text transform="rotate(-90 683 700)" x="683" y="700" class="r" style="font-size:11px">1—1</text>
</g>
<line x1="692" y1="675" x2="692" y2="735" stroke="#111" stroke-width="2"/><line x1="696" y1="675" x2="696" y2="735" stroke="#111" stroke-width="0.8"/>

<!-- SECTION 2-2 -->
<g>
<rect x="773" y="656" width="65" height="64" fill="none" stroke="#333" stroke-width="5"/>
<rect x="773" y="656" width="65" height="64" fill="none" stroke="#ddd" stroke-width="3"/>
<line x1="783" y1="657" x2="828" y2="720" class="bar1"/><line x1="783" y1="657" x2="828" y2="720" class="bar2"/>
<line x1="775" y1="708" x2="835" y2="667" class="bar1"/><line x1="775" y1="708" x2="835" y2="667" class="bar2"/>
<circle cx="798" cy="643" r="10" class="c"/><text transform="rotate(-90 798 643)" x="798" y="643" class="r" style="font-size:8px">216</text>
<circle cx="762" cy="680" r="10" class="c"/><text transform="rotate(-90 762 680)" x="762" y="680" class="r" style="font-size:8px">216</text>
<circle cx="762" cy="705" r="10" class="c"/><text transform="rotate(-90 762 705)" x="762" y="705" class="r" style="font-size:8px">221</text>
<circle cx="850" cy="688" r="10" class="c"/><text transform="rotate(-90 850 688)" x="850" y="688" class="r" style="font-size:8px">216</text>
<circle cx="800" cy="732" r="10" class="c"/><text transform="rotate(-90 800 732)" x="800" y="732" class="r" style="font-size:8px">220</text>
<circle cx="826" cy="732" r="10" class="c"/><text transform="rotate(-90 826 732)" x="826" y="732" class="r" style="font-size:8px">216</text>
<text transform="rotate(-45 735 720)" x="735" y="720" class="t" style="font-size:8px">L40×3</text><text transform="rotate(-45 741 728)" x="741" y="728" class="t" style="font-size:8px">634</text>
<text transform="rotate(-60 790 762)" x="790" y="762" class="t" style="font-size:8px">L40×3 634</text>
<text x="765" y="752" class="t" style="font-size:8px">80 292</text><text transform="rotate(180 765 758)" x="765" y="758" class="t" style="font-size:8px">405</text>
<text transform="rotate(-40 855 713)" x="855" y="713" class="t" style="font-size:8px">292</text><text transform="rotate(-90 866 718)" x="866" y="718" class="r" style="font-size:8px">405</text>
<text transform="rotate(-90 883 680)" x="883" y="680" class="r" style="font-size:11px">2—2</text>
</g>
<line x1="897" y1="655" x2="897" y2="715" stroke="#111" stroke-width="2"/><line x1="901" y1="655" x2="901" y2="715" stroke="#111" stroke-width="0.8"/>

<!-- SECTIONS 4-4, 3-3 -->
<g fill="#bbb" stroke="#333" stroke-width="0.8">
<path d="M928 632 L974 632 L974 674 L968 674 L968 638 L928 638 Z"/>
<path d="M928 737 L974 737 L974 779 L968 779 L968 743 L928 743 Z"/>
</g>
<circle cx="947" cy="658" r="9" class="c"/><text transform="rotate(-90 947 658)" x="947" y="658" class="r" style="font-size:8px">201</text>
<circle cx="982" cy="617" r="9" class="c"/><text transform="rotate(-90 982 617)" x="982" y="617" class="r" style="font-size:8px">217</text>
<circle cx="945" cy="762" r="9" class="c"/><text transform="rotate(-90 945 762)" x="945" y="762" class="r" style="font-size:8px">101</text>
<circle cx="982" cy="723" r="9" class="c"/><text transform="rotate(-90 982 723)" x="982" y="723" class="r" style="font-size:8px">217</text>
<text transform="rotate(-90 1012 640)" x="1012" y="640" class="r" style="font-size:11px">4—4</text>
<text transform="rotate(-90 1012 750)" x="1012" y="750" class="r" style="font-size:11px">3—3</text>
<line x1="1022" y1="610" x2="1022" y2="665" stroke="#111" stroke-width="2"/><line x1="1026" y1="610" x2="1026" y2="665" stroke="#111" stroke-width="0.8"/>
<line x1="1022" y1="720" x2="1022" y2="780" stroke="#111" stroke-width="2"/><line x1="1026" y1="720" x2="1026" y2="780" stroke="#111" stroke-width="0.8"/>

<text x="631" y="825" style="font-size:14px;text-anchor:middle">- 631 -</text>
</svg>
</body></html>
